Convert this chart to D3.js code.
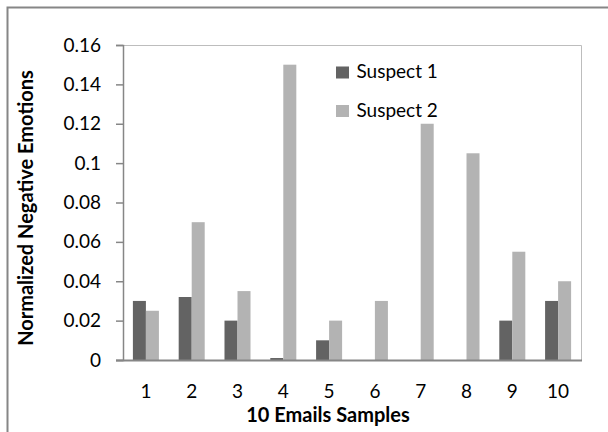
<!DOCTYPE html>
<html>
<head>
<meta charset="utf-8">
<script src="https://cdn.jsdelivr.net/npm/d3@7"></script>
<style>
  body { margin: 0; background: #fff; }
  text { font-family: Lato, "Open Sans", sans-serif; fill: #000; }
</style>
</head>
<body>
<div id="chart"></div>
<script>
// data
var samples = ["1", "2", "3", "4", "5", "6", "7", "8", "9", "10"];
var suspect1 = [0.03, 0.032, 0.02, 0.001, 0.01, 0, 0, 0, 0.02, 0.03];
var suspect2 = [0.025, 0.07, 0.035, 0.15, 0.02, 0.03, 0.12, 0.105, 0.055, 0.04];
var seriesNames = ["Suspect 1", "Suspect 2"];
var yTicks = [0, 0.02, 0.04, 0.06, 0.08, 0.1, 0.12, 0.14, 0.16];

var svgWidth = 608;
var svgHeight = 432;

var plot = { left: 123, right: 581, top: 45, bottom: 360 };
var colors = ["#636363", "#b3b3b3"];

var svg = d3.select("#chart")
    .append("svg")
    .attr("width", svgWidth)
    .attr("height", svgHeight);

// outer chart frame (only top and left edges are in view)
svg.append("path")
    .attr("d", "M7.5,440 L7.5,7.5 L620,7.5")
    .attr("fill", "none")
    .attr("stroke", "#868686")
    .attr("stroke-width", 2);

// scales
var x0 = d3.scaleBand()
    .domain(samples)
    .range([plot.left, plot.right])
    .paddingInner(0.432)
    .paddingOuter(0.216);

var x1 = d3.scaleBand()
    .domain(seriesNames)
    .range([0, x0.bandwidth()]);

var y = d3.scaleLinear()
    .domain([0, 0.16])
    .range([plot.bottom, plot.top]);

// plot area border (top and right)
svg.append("path")
    .attr("d", `M${plot.left},${plot.top + 0.5} L${plot.right + 0.5},${plot.top + 0.5} L${plot.right + 0.5},${plot.bottom}`)
    .attr("fill", "none")
    .attr("stroke", "#bdbdbd")
    .attr("stroke-width", 1);

// bars
var rows = samples.map(function(s, i) {
    return { sample: s, values: [suspect1[i], suspect2[i]] };
});

var groups = svg.selectAll(".grp")
    .data(rows)
    .enter()
    .append("g")
    .attr("class", "grp")
    .attr("transform", d => `translate(${x0(d.sample)},0)`);

groups.selectAll("rect")
    .data(d => d.values.map((v, k) => ({ name: seriesNames[k], value: v, k: k })))
    .enter()
    .append("rect")
    .attr("x", d => x1(d.name))
    .attr("y", d => y(d.value))
    .attr("width", x1.bandwidth())
    .attr("height", d => y(0) - y(d.value))
    .attr("fill", d => colors[d.k]);

// y axis
var yAxis = d3.axisLeft(y)
    .tickValues(yTicks)
    .tickSize(7)
    .tickPadding(15)
    .tickFormat(d => d === 0 ? "0" : d3.format("")(+d.toFixed(2)));

var yG = svg.append("g")
    .attr("transform", `translate(${plot.left},0)`)
    .call(yAxis);
yG.select(".domain").attr("stroke", "#868686").attr("stroke-width", 1.5);
yG.selectAll(".tick line").attr("stroke", "#868686").attr("stroke-width", 1.5);
yG.selectAll("text")
    .attr("font-family", "Lato, sans-serif")
    .attr("font-size", "19px")
    .attr("fill", "#000");

// x axis
var xAxis = d3.axisBottom(x0)
    .tickSize(0)
    .tickPadding(24.5);

var xG = svg.append("g")
    .attr("transform", `translate(0,${plot.bottom})`)
    .call(xAxis);
xG.select(".domain").remove();
xG.append("line")
    .attr("x1", plot.left - 7)
    .attr("x2", plot.right + 1)
    .attr("y1", 0.5)
    .attr("y2", 0.5)
    .attr("stroke", "#868686")
    .attr("stroke-width", 2);
xG.selectAll("text")
    .attr("font-family", "Lato, sans-serif")
    .attr("font-size", "19px")
    .attr("fill", "#000");

// axis titles
svg.append("text")
    .attr("x", 328)
    .attr("y", 422)
    .attr("text-anchor", "middle")
    .attr("font-size", "20px")
    .attr("font-weight", "bold")
    .text("10 Emails Samples");

svg.append("text")
    .attr("transform", "translate(33,208) rotate(-90)")
    .attr("text-anchor", "middle")
    .attr("font-size", "20px")
    .attr("font-weight", "bold")
    .text("Normalized Negative Emotions");

// legend
var legend = svg.selectAll(".legend")
    .data(seriesNames)
    .enter()
    .append("g")
    .attr("class", "legend")
    .attr("transform", (d, i) => `translate(336,${66.5 + i * 38.5})`);

legend.append("rect")
    .attr("width", 13)
    .attr("height", 12)
    .attr("fill", (d, i) => colors[i]);

legend.append("text")
    .attr("x", 20.5)
    .attr("y", 11.5)
    .attr("font-size", "19px")
    .text(d => d);
</script>
</body>
</html>
